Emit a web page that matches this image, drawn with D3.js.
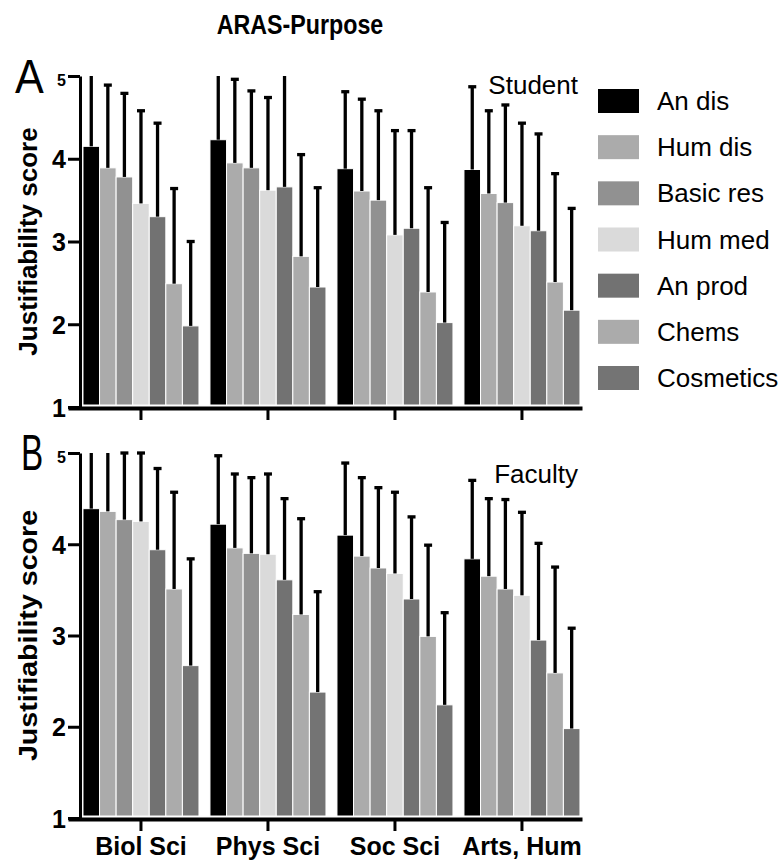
<!DOCTYPE html>
<html>
<head>
<meta charset="utf-8">
<script src="https://cdn.jsdelivr.net/npm/d3@7"></script>
<style>
  body { margin: 0; background: #fff; }
  text { font-family: "Liberation Sans", Arial, sans-serif; }
</style>
</head>
<body>
<svg id="canvas"></svg>
<script>
let categories = ["Biol Sci", "Phys Sci", "Soc Sci", "Arts, Hum"]
let series = ["An dis", "Hum dis", "Basic res", "Hum med", "An prod", "Chems", "Cosmetics"]
let colors = ["#000000", "#ababab", "#919191", "#dadada", "#727272", "#ababab", "#747474"]
let yTicks = [1, 2, 3, 4, 5]

// mean per category (rows) and series (columns)
let studentMeans = [
    [4.15, 3.89, 3.78, 3.46, 3.30, 2.49, 1.98],
    [4.23, 3.95, 3.89, 3.62, 3.66, 2.82, 2.45],
    [3.88, 3.61, 3.50, 3.08, 3.16, 2.39, 2.02],
    [3.87, 3.58, 3.47, 3.19, 3.13, 2.51, 2.17]
]
// top of the error bar (mean + sd)
let studentUpper = [
    [5.10, 4.89, 4.79, 4.58, 4.43, 3.64, 3.00],
    [5.10, 4.96, 4.82, 4.74, 5.10, 4.05, 3.65],
    [4.81, 4.72, 4.58, 4.34, 4.34, 3.65, 3.23],
    [4.87, 4.58, 4.65, 4.43, 4.30, 3.82, 3.40]
]
let facultyMeans = [
    [4.39, 4.36, 4.27, 4.25, 3.94, 3.51, 2.67],
    [4.22, 3.96, 3.90, 3.89, 3.61, 3.23, 2.38],
    [4.10, 3.87, 3.74, 3.68, 3.40, 2.99, 2.24],
    [3.84, 3.65, 3.51, 3.44, 2.95, 2.59, 1.98]
]
let facultyUpper = [
    [5.10, 5.10, 5.00, 5.00, 4.83, 4.57, 3.84],
    [4.97, 4.77, 4.73, 4.77, 4.50, 4.28, 3.48],
    [4.89, 4.73, 4.62, 4.57, 4.30, 3.99, 3.25],
    [4.70, 4.50, 4.49, 4.35, 4.01, 3.75, 3.08]
]

let width = 783
let height = 863

let canvas = d3.select("#canvas")
    .attr("width", width)
    .attr("height", height)

let xScale = d3.scaleBand()
    .domain(categories)
    .range([68, 582])
    .paddingInner(0.0866)
    .paddingOuter(0.067)
    .align(0.88)

let innerScale = d3.scaleBand()
    .domain(series)
    .range([0, xScale.bandwidth()])

let color = d3.scaleOrdinal().domain(series).range(colors)

let drawPanel = (means, upper, top, bottom, letter, group, labelStretch, showCats) => {

    let yScale = d3.scaleLinear().domain([1, 5]).range([bottom, top])

    let g = canvas.append("g")

    // bars
    categories.forEach((cat, ci) => {
        let cg = g.append("g").attr("transform", "translate(" + xScale(cat) + ",0)")
        let rows = series.map((s, si) => ({ s: s, v: means[ci][si], u: upper[ci][si] }))

        cg.selectAll("rect")
            .data(rows)
            .enter()
            .append("rect")
            .attr("x", d => innerScale(d.s))
            .attr("width", innerScale.bandwidth())
            .attr("y", d => yScale(d.v))
            .attr("height", d => yScale(1) - yScale(d.v) - 2)
            .attr("fill", d => color(d.s))
            .attr("stroke", "#fff")
            .attr("stroke-width", 1)

        cg.selectAll("line.err")
            .data(rows)
            .enter()
            .append("line")
            .attr("class", "err")
            .attr("x1", d => innerScale(d.s) + innerScale.bandwidth() / 2)
            .attr("x2", d => innerScale(d.s) + innerScale.bandwidth() / 2)
            .attr("y1", d => yScale(d.v))
            .attr("y2", d => yScale(Math.min(d.u, 5)))
            .attr("stroke", "#000")
            .attr("stroke-width", 3.3)

        cg.selectAll("line.cap")
            .data(rows.filter(d => d.u <= 5))
            .enter()
            .append("line")
            .attr("class", "cap")
            .attr("x1", d => innerScale(d.s) + innerScale.bandwidth() / 2 - 4)
            .attr("x2", d => innerScale(d.s) + innerScale.bandwidth() / 2 + 4)
            .attr("y1", d => yScale(d.u))
            .attr("y2", d => yScale(d.u))
            .attr("stroke", "#000")
            .attr("stroke-width", 3.3)
    })

    // axes
    let yAxis = d3.axisLeft(yScale).tickValues(yTicks).tickFormat(d3.format("d"))
        .tickSize(12).tickSizeOuter(0).tickPadding(2)
    let ya = g.append("g")
        .attr("transform", "translate(80,0)")
        .call(yAxis)
    ya.selectAll("path, line").attr("stroke", "#000").attr("stroke-width", 3)
    ya.selectAll("text")
        .attr("fill", "#000")
        .style("font-size", d => d === 5 ? "16px" : "25px")
        .style("font-weight", "bold")
        .attr("dy", d => d === 5 ? "0.6em" : "0.36em")

    let xAxis = d3.axisBottom(xScale).tickSize(12).tickSizeOuter(0).tickPadding(6)
    let xa = g.append("g")
        .attr("transform", "translate(0," + (bottom + 1) + ")")
        .call(xAxis)
    xa.select("path").attr("stroke", "#000").attr("stroke-width", 4)
    xa.selectAll("line").attr("stroke", "#000").attr("stroke-width", 3)
    xa.selectAll("text")
        .attr("fill", "#000")
        .style("font-size", "25px")
        .style("font-weight", "bold")
        .style("display", showCats ? null : "none")

    // y label
    g.append("text")
        .attr("transform", "translate(37," + ((top + bottom) / 2) + ") rotate(-90) scale(" + labelStretch + ",1)")
        .attr("text-anchor", "middle")
        .style("font-size", "26px")
        .style("font-weight", "bold")
        .text("Justifiability score")

    // panel letter
    g.append("text")
        .attr("transform", "translate(" + (letter === "A" ? 15 : 21) + "," + (top + 17) + ") scale(" + (letter === "A" ? 0.88 : 0.68) + ",1)")
        .style("font-size", "49px")
        .text(letter)

    g.append("text")
        .attr("x", 578)
        .attr("y", top + 18 + (letter === "A" ? 0 : 12))
        .attr("text-anchor", "end")
        .style("font-size", "26px")
        .text(group)
}

drawPanel(studentMeans, studentUpper, 76, 407, "A", "Student", 1, false)
drawPanel(facultyMeans, facultyUpper, 453, 818, "B", "Faculty", 1.1, true)

// title
canvas.append("text")
    .attr("transform", "translate(300,34) scale(0.83,1)")
    .attr("text-anchor", "middle")
    .style("font-size", "28px")
    .style("font-weight", "bold")
    .text("ARAS-Purpose")

// legend
let legend = canvas.append("g").attr("transform", "translate(598,0)")
let legY = d3.scalePoint().domain(series).range([101, 378])

legend.selectAll("rect")
    .data(series)
    .enter()
    .append("rect")
    .attr("x", 0)
    .attr("y", d => legY(d) - 12)
    .attr("width", 41)
    .attr("height", 24)
    .attr("fill", d => color(d))

legend.selectAll("text")
    .data(series)
    .enter()
    .append("text")
    .attr("x", 59)
    .attr("y", d => legY(d) + 9)
    .style("font-size", "26px")
    .text(d => d)
</script>
</body>
</html>
